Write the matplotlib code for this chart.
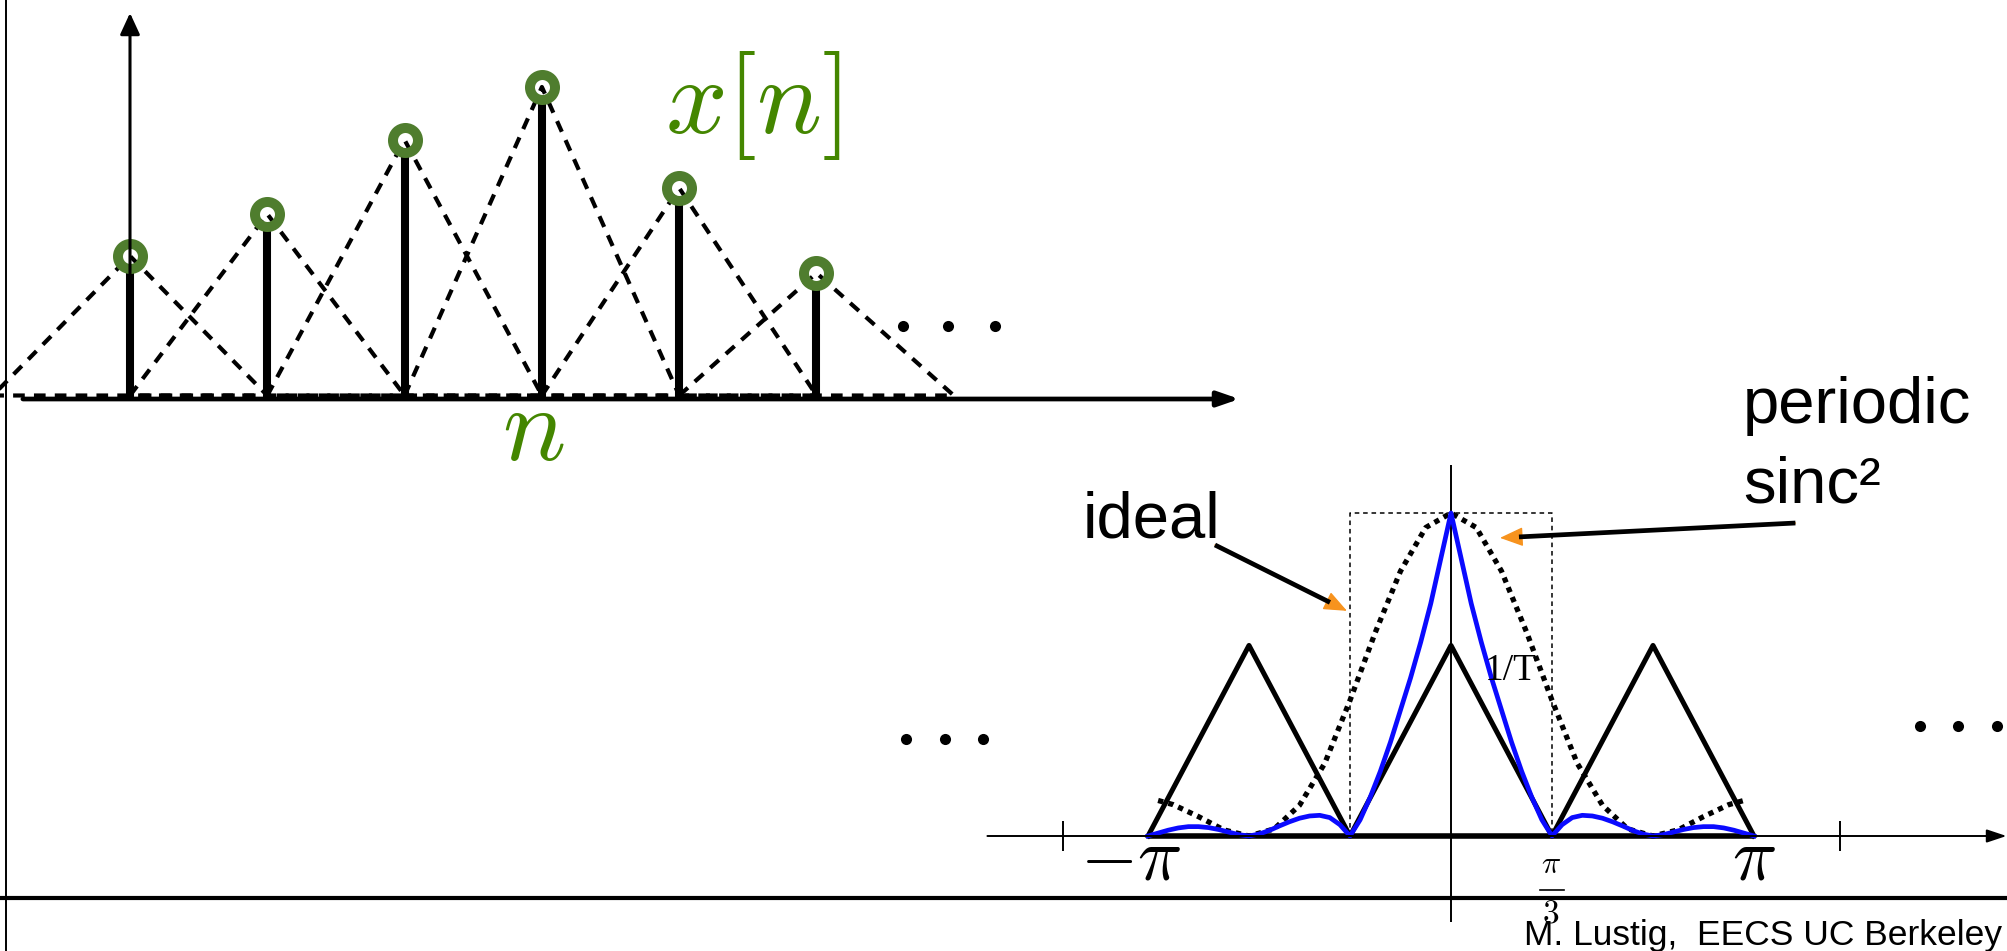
import numpy as np
import matplotlib
matplotlib.use('Agg')
import matplotlib.pyplot as plt
from matplotlib.lines import Line2D

plt.rcParams['font.family'] = ['Liberation Sans', 'DejaVu Sans']

W, H, DPI = 2007, 951, 100

GREEN_TEXT = '#448600'
GREEN_RING = '#4f7d2e'
ORANGE = '#f7931e'
BLUE = '#0a0aff'

# discrete sequence x[n]
n_idx = [0, 1, 2, 3, 4, 5]
x_vals = [1.43, 1.85, 2.59, 3.12, 2.11, 1.26]

# spectrum, frequency in units of pi/3
tri_k = [-3, -2, -1, 0, 1, 2, 3]
tri_v = [0, 0.59, 0, 0.59, 0, 0.59, 0]

ideal_k = [-1, -1, 1, 1, -1]
ideal_v = [0, 1, 1, 0, 0]

# wide periodic sinc^2 (dotted)
wide_k = [-2.9, -2.75, -2.5, -2.25, -2, -1.75, -1.5, -1.25, -1, -0.75, -0.5, -0.25,
          0, 0.25, 0.5, 0.75, 1, 1.25, 1.5, 1.75, 2, 2.25, 2.5, 2.75, 2.9]
wide_v = [0.11, 0.097, 0.060, 0.019, 0, 0.022, 0.095, 0.225, 0.42, 0.63, 0.82, 0.955,
          1.0, 0.955, 0.82, 0.63, 0.42, 0.225, 0.095, 0.022, 0, 0.019, 0.060, 0.097, 0.11]

# narrow periodic sinc^2 (blue), sampled every 0.1 from -3 to 3
narrow_k = np.linspace(-3, 3, 61)
narrow_v = [0, 0.009, 0.018, 0.025, 0.029, 0.029, 0.026, 0.020, 0.012, 0.004,
            0, 0.006, 0.017, 0.031, 0.044, 0.055, 0.062, 0.064, 0.057, 0.035,
            0, 0.05, 0.12, 0.20, 0.29, 0.39, 0.49, 0.60, 0.72, 0.86,
            1.0,
            0.86, 0.72, 0.60, 0.49, 0.39, 0.29, 0.20, 0.12, 0.05, 0,
            0.035, 0.057, 0.064, 0.062, 0.055, 0.044, 0.031, 0.017, 0.006, 0,
            0.004, 0.012, 0.020, 0.026, 0.029, 0.029, 0.025, 0.018, 0.009, 0]

spec_ticks = [-3.84, 3.85]


fig = plt.figure(figsize=(W / DPI, H / DPI), dpi=DPI)


def overlay(x0, y0, sx, sy):
    """Full-figure axes with its origin at pixel (x0, y0) from the top left."""
    ax = fig.add_axes([0, 0, 1, 1])
    ax.set_xlim(-x0 / sx, (W - x0) / sx)
    ax.set_ylim((y0 - H) / sy, y0 / sy)
    ax.axis('off')
    ax.patch.set_visible(False)
    return ax


def axis_arrow(ax, start, end, lw, hl, hw):
    ax.annotate('', xy=end, xytext=start,
                arrowprops=dict(arrowstyle=f'-|>,head_length={hl},head_width={hw}',
                                color='k', lw=lw, mutation_scale=10,
                                shrinkA=0, shrinkB=0))


def pointer(ax, tail, tip):
    """Black leader line with an orange head."""
    ax.annotate('', xy=tip, xytext=tail,
                arrowprops=dict(arrowstyle='-|>,head_length=1.45,head_width=0.6',
                                color=ORANGE, lw=1.0, mutation_scale=10,
                                shrinkA=0, shrinkB=0))
    p0 = ax.transData.transform(tail)
    p1 = ax.transData.transform(tip)
    d = (p1 - p0) / np.hypot(*(p1 - p0))
    base = ax.transData.inverted().transform(p1 - d * 19)
    ax.plot([tail[0], base[0]], [tail[1], base[1]], color='k', lw=3.4,
            solid_capstyle='butt', zorder=5)


def dots(ax, xs, y):
    ax.plot(xs, [y] * len(xs), 'o', color='k', ms=8, mew=0)


# ---- top: the sequence with its interpolating triangles ----
ax1 = overlay(130, 399, 137.3, 100)

axis_arrow(ax1, (-0.78, 0), (8.08, 0), 3.4, 1.3, 0.45)
axis_arrow(ax1, (0, 0), (0, 3.86), 2.2, 1.3, 0.6)

for n, v in zip(n_idx, x_vals):
    ax1.plot([n - 1, n, n + 1, n - 1], [0.035, v, 0.035, 0.035], color='k',
             lw=3.0, ls=(0, (2.8, 2.2)))
ax1.vlines(n_idx, 0, np.array(x_vals) - 0.12, color='k', lw=5.8)
ax1.plot(n_idx, x_vals, 'o', mfc='none', mec=GREEN_RING, ms=18, mew=7.2)

ax1.text(3.9, 2.66, r'$x[n]$', fontsize=78, color=GREEN_TEXT,
         math_fontfamily='cm', ha='left', va='baseline')
ax1.text(2.94, -0.61, r'$n$', fontsize=76, color=GREEN_TEXT,
         math_fontfamily='cm', ha='center', va='baseline')
dots(ax1, [5.63, 5.96, 6.30], 0.73)

# ---- bottom: spectrum and interpolation filters ----
ax2 = overlay(1451, 836, 101, 323)

axis_arrow(ax2, (-4.59, 0), (5.50, 0), 1.4, 1.2, 0.4)
ax2.vlines(0, -0.266, 1.149, color='k', lw=1.4)
ax2.vlines(spec_ticks, -0.046, 0.046, color='k', lw=1.4)

ax2.plot(ideal_k, ideal_v, color='k', lw=1.1, ls=(0, (3, 2.5)))
ax2.plot([tri_k[0], tri_k[-1]], [0, 0], color='k', lw=4, solid_capstyle='butt')
ax2.plot(tri_k, tri_v, color='k', lw=3.6)
ax2.plot(wide_k, wide_v, color='k', lw=3.8, ls=(0, (1, 1)))
ax2.plot(narrow_k, narrow_v, color=BLUE, lw=3.4)

ax2.text(-3.17, -0.136, r'$-\pi$', fontsize=53, math_fontfamily='cm',
         ha='center', va='baseline')
ax2.text(3.0, -0.136, r'$\pi$', fontsize=53, math_fontfamily='cm',
         ha='center', va='baseline')
ax2.text(0.99, -0.115, r'$\pi$', fontsize=23, math_fontfamily='cm',
         ha='center', va='baseline')
ax2.plot([0.88, 1.12], [-0.168, -0.168], color='k', lw=1.2)
ax2.text(0.99, -0.269, r'$3$', fontsize=24, math_fontfamily='cm',
         ha='center', va='baseline')
ax2.text(0.337, 0.483, '1/T', fontsize=27, family='Liberation Serif',
         ha='left', va='baseline')

ax2.text(-3.644, 0.923, 'ideal', fontsize=47, ha='left', va='baseline')
ax2.text(2.891, 1.279, 'periodic', fontsize=47, ha='left', va='baseline')
ax2.text(2.891, 1.031, 'sinc\u00b2', fontsize=47, ha='left', va='baseline')
pointer(ax2, np.array([-2.337, 0.901]), np.array([-1.03, 0.697]))
pointer(ax2, np.array([3.41, 0.969]), np.array([0.485, 0.923]))

dots(ax2, [-5.40, -5.01, -4.63], 0.30)
dots(ax2, [4.64, 5.02, 5.41], 0.34)

# ---- frame and footer ----
fig.add_artist(Line2D([0, 1], [1 - 898 / H] * 2, color='k', lw=3))
fig.add_artist(Line2D([6 / W] * 2, [0, 1], color='k', lw=1.4))
fig.text(1524 / W, 1 - 945 / H, 'M. Lustig,  EECS UC Berkeley', fontsize=25.5,
         ha='left', va='baseline')

fig.savefig('out.png', dpi=DPI)
